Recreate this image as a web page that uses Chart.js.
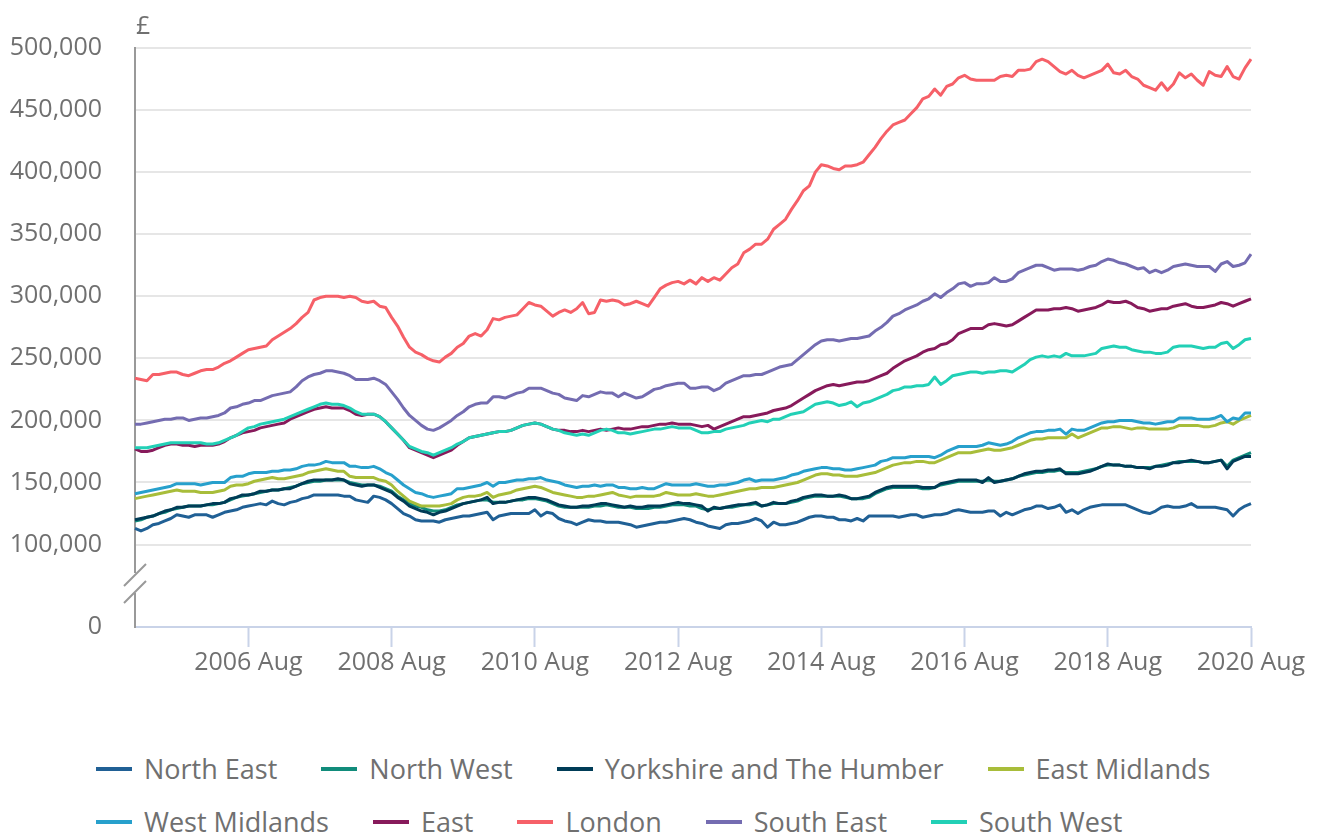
<!DOCTYPE html>
<html>
<head>
<meta charset="utf-8">
<title>Average house price by region</title>
<script src="https://cdn.jsdelivr.net/npm/chart.js@4.4.0/dist/chart.umd.min.js"></script>
<style>
    body { margin: 0; background: #fff; font-family: 'Open Sans', sans-serif; }
    #wrap { position: relative; width: 1319px; height: 835px; overflow: hidden; }
    #chartBox { position: absolute; left: 0; top: 0; width: 1319px; height: 700px; }
    .legend-row { position: absolute; left: 96px; display: flex; align-items: center; white-space: nowrap; font-size: 27px; line-height: 36px; color: #707070; }
    .legend-item { display: flex; align-items: center; margin-right: 44px; }
    .swatch { width: 36px; height: 4px; margin-right: 12px; }
</style>
</head>
<body>
<div id="wrap">
    <div id="chartBox"><canvas id="priceChart"></canvas></div>
    <div class="legend-row" id="legendRow1" style="top:751px"></div>
    <div class="legend-row" id="legendRow2" style="top:804px"></div>
</div>
<script>
// Average house price by region, Jan 2005 - Aug 2020 (£ thousands)

const monthNames = ['Jan', 'Feb', 'Mar', 'Apr', 'May', 'Jun', 'Jul', 'Aug', 'Sep', 'Oct', 'Nov', 'Dec'];
const firstYear = 2005;
const monthCount = 188;

const tickLabels = ['2006 Aug', '2008 Aug', '2010 Aug', '2012 Aug', '2014 Aug', '2016 Aug', '2018 Aug', '2020 Aug'];
const yTicks = [100000, 150000, 200000, 250000, 300000, 350000, 400000, 450000, 500000];

const northEast = [
    113, 111, 113, 116, 117, 119, 121, 124, 123, 122, 124, 124,
    124, 122, 124, 126, 127, 128, 130, 131, 132, 133, 132, 135,
    133, 132, 134, 135, 137, 138, 140, 140, 140, 140, 140, 139,
    139, 136, 135, 134, 139, 138, 136, 133, 129, 125, 123, 120,
    119, 119, 119, 118, 120, 121, 122, 123, 123, 124, 125, 126,
    120, 123, 124, 125, 125, 125, 125, 128, 123, 126, 125, 121,
    119, 118, 116, 118, 120, 119, 119, 118, 118, 118, 117, 116,
    114, 115, 116, 117, 118, 118, 119, 120, 121, 120, 118, 117,
    115, 114, 113, 116, 117, 117, 118, 119, 121, 119, 114, 118,
    116, 116, 117, 118, 120, 122, 123, 123, 122, 122, 120, 120,
    119, 121, 119, 123, 123, 123, 123, 123, 122, 123, 124, 124,
    122, 123, 124, 124, 125, 127, 128, 127, 126, 126, 126, 127,
    127, 123, 126, 124, 126, 128, 129, 131, 131, 129, 130, 132,
    126, 128, 125, 128, 130, 131, 132, 132, 132, 132, 132, 130,
    128, 126, 125, 127, 130, 131, 130, 130, 131, 133, 130, 130,
    130, 130, 129, 128, 123, 128, 131, 133
];

const northWest = [
    119, 120, 122, 123, 125, 126, 128, 129, 130, 131, 131, 131,
    132, 132, 133, 134, 136, 138, 139, 140, 141, 142, 143, 144,
    144, 145, 146, 147, 149, 150, 151, 151, 152, 152, 152, 152,
    150, 149, 148, 148, 148, 147, 145, 143, 139, 136, 133, 131,
    130, 128, 127, 127, 128, 130, 132, 133, 134, 135, 136, 136,
    134, 134, 134, 135, 136, 136, 137, 137, 136, 135, 133, 131,
    130, 130, 130, 130, 130, 131, 131, 132, 131, 130, 130, 130,
    129, 129, 129, 130, 130, 131, 132, 132, 132, 131, 131, 129,
    128, 129, 129, 130, 130, 131, 132, 132, 133, 131, 132, 133,
    133, 133, 134, 135, 137, 138, 139, 139, 139, 139, 139, 138,
    137, 137, 137, 138, 141, 143, 145, 146, 146, 146, 146, 146,
    145, 145, 146, 148, 149, 150, 151, 151, 151, 151, 151, 152,
    151, 151, 152, 153, 155, 156, 157, 158, 158, 159, 159, 160,
    158, 158, 158, 159, 160, 161, 163, 164, 164, 164, 163, 163,
    162, 162, 162, 163, 164, 165, 166, 167, 167, 167, 167, 166,
    166, 167, 168, 163, 168, 170, 172, 174
];

const yorkshire = [
    120, 121, 122, 123, 125, 127, 128, 130, 130, 131, 131, 131,
    132, 133, 133, 134, 137, 138, 140, 140, 141, 143, 143, 144,
    144, 145, 145, 147, 149, 151, 152, 152, 152, 152, 153, 152,
    149, 148, 147, 148, 148, 146, 144, 142, 138, 135, 131, 129,
    127, 126, 124, 126, 127, 129, 131, 133, 134, 135, 136, 138,
    133, 134, 134, 135, 136, 137, 138, 138, 137, 136, 134, 132,
    131, 130, 130, 131, 131, 132, 133, 133, 132, 131, 130, 131,
    130, 130, 131, 131, 131, 132, 133, 134, 133, 133, 132, 131,
    127, 130, 129, 130, 131, 132, 132, 133, 134, 131, 132, 134,
    133, 133, 135, 136, 138, 139, 140, 140, 139, 139, 140, 139,
    137, 137, 138, 139, 142, 144, 146, 147, 147, 147, 147, 147,
    146, 146, 146, 149, 150, 151, 152, 152, 152, 152, 150, 154,
    150, 151, 152, 153, 155, 157, 158, 159, 159, 160, 160, 161,
    157, 157, 157, 158, 159, 161, 163, 165, 164, 164, 163, 163,
    162, 162, 161, 163, 163, 164, 166, 166, 167, 168, 167, 166,
    166, 167, 168, 161, 167, 169, 171, 171
];

const eastMidlands = [
    137, 138, 139, 140, 141, 142, 143, 144, 143, 143, 143, 142,
    142, 142, 143, 144, 147, 148, 148, 149, 151, 152, 153, 154,
    153, 153, 154, 155, 156, 158, 159, 160, 161, 160, 159, 159,
    155, 154, 154, 154, 154, 152, 151, 148, 143, 139, 135, 133,
    131, 131, 131, 131, 132, 133, 136, 138, 139, 139, 140, 142,
    138, 140, 141, 142, 144, 145, 146, 147, 146, 144, 142, 141,
    140, 139, 138, 138, 139, 139, 140, 141, 142, 140, 139, 138,
    139, 139, 139, 139, 140, 142, 141, 140, 140, 140, 141, 140,
    139, 139, 140, 141, 142, 143, 144, 145, 145, 146, 146, 146,
    147, 148, 149, 150, 152, 154, 156, 157, 157, 156, 156, 155,
    155, 155, 156, 157, 158, 160, 162, 164, 165, 166, 166, 167,
    167, 166, 166, 168, 170, 172, 174, 174, 174, 175, 176, 177,
    176, 176, 177, 178, 180, 182, 184, 185, 185, 186, 186, 186,
    186, 189, 186, 188, 190, 192, 194, 194, 195, 195, 194, 193,
    194, 194, 193, 193, 193, 193, 194, 196, 196, 196, 196, 195,
    195, 196, 198, 199, 197, 200, 202, 204
];

const westMidlands = [
    141, 142, 143, 144, 145, 146, 147, 149, 149, 149, 149, 148,
    149, 150, 150, 150, 154, 155, 155, 157, 158, 158, 158, 159,
    159, 160, 160, 161, 163, 164, 164, 165, 167, 166, 166, 166,
    163, 163, 162, 162, 163, 161, 158, 156, 152, 148, 145, 142,
    141, 139, 138, 139, 140, 141, 145, 145, 146, 147, 148, 150,
    147, 150, 150, 151, 152, 152, 153, 153, 154, 152, 151, 150,
    148, 147, 146, 147, 147, 148, 147, 148, 148, 146, 146, 145,
    145, 146, 145, 145, 147, 149, 148, 148, 148, 148, 149, 148,
    147, 147, 148, 148, 149, 150, 152, 153, 151, 152, 152, 152,
    153, 154, 156, 157, 159, 160, 161, 162, 162, 161, 161, 160,
    160, 161, 162, 163, 164, 167, 168, 170, 170, 170, 171, 171,
    171, 171, 170, 172, 175, 177, 179, 179, 179, 179, 180, 182,
    181, 180, 181, 183, 186, 188, 190, 191, 191, 192, 192, 193,
    189, 193, 192, 192, 194, 196, 198, 199, 199, 200, 200, 200,
    199, 198, 198, 197, 198, 199, 199, 202, 202, 202, 201, 201,
    201, 202, 204, 199, 202, 201, 206, 206
];

const east = [
    177, 175, 175, 176, 178, 180, 181, 181, 180, 180, 179, 180,
    180, 180, 181, 183, 186, 188, 190, 191, 192, 194, 195, 196,
    197, 198, 201, 203, 205, 207, 209, 210, 211, 210, 210, 210,
    208, 205, 204, 205, 205, 203, 199, 194, 189, 184, 178, 176,
    174, 172, 170, 172, 174, 176, 180, 183, 186, 187, 188, 189,
    190, 191, 191, 192, 194, 196, 197, 198, 197, 195, 193, 192,
    192, 191, 191, 192, 191, 192, 193, 192, 193, 194, 193, 193,
    194, 195, 195, 196, 197, 197, 198, 197, 197, 197, 196, 195,
    196, 193, 195, 197, 199, 201, 203, 203, 204, 205, 206, 208,
    209, 210, 212, 215, 218, 221, 224, 226, 228, 229, 228, 229,
    230, 231, 231, 232, 234, 236, 238, 242, 245, 248, 250, 252,
    255, 257, 258, 261, 262, 265, 270, 272, 274, 274, 274, 277,
    278, 277, 276, 277, 280, 283, 286, 289, 289, 289, 290, 290,
    291, 290, 288, 289, 290, 291, 293, 296, 295, 295, 296, 294,
    291, 290, 288, 289, 290, 290, 292, 293, 294, 292, 291, 291,
    292, 293, 295, 294, 292, 294, 296, 298
];

const london = [
    234, 233, 232, 237, 237, 238, 239, 239, 237, 236, 238, 240,
    241, 241, 243, 246, 248, 251, 254, 257, 258, 259, 260, 265,
    268, 271, 274, 278, 283, 287, 297, 299, 300, 300, 300, 299,
    300, 299, 296, 295, 296, 292, 291, 283, 276, 267, 259, 255,
    253, 250, 248, 247, 251, 254, 259, 262, 268, 270, 268, 273,
    282, 281, 283, 284, 285, 290, 295, 293, 292, 288, 284, 287,
    289, 287, 290, 295, 286, 287, 297, 296, 297, 296, 293, 294,
    296, 294, 292, 299, 306, 309, 311, 312, 310, 313, 310, 315,
    312, 315, 313, 318, 323, 326, 335, 338, 342, 342, 346, 354,
    358, 362, 370, 377, 385, 389, 400, 406, 405, 403, 402, 405,
    405, 406, 408, 414, 420, 427, 433, 438, 440, 442, 447, 452,
    459, 461, 467, 462, 469, 471, 476, 478, 475, 474, 474, 474,
    474, 477, 478, 477, 482, 482, 483, 489, 491, 489, 485, 481,
    479, 482, 478, 476, 478, 480, 482, 487, 480, 479, 482, 477,
    475, 470, 468, 466, 472, 466, 471, 480, 476, 479, 474, 470,
    481, 478, 477, 485, 477, 475, 484, 491
];

const southEast = [
    197, 197, 198, 199, 200, 201, 201, 202, 202, 200, 201, 202,
    202, 203, 204, 206, 210, 211, 213, 214, 216, 216, 218, 220,
    221, 222, 223, 227, 232, 235, 237, 238, 240, 240, 239, 238,
    236, 233, 233, 233, 234, 232, 229, 223, 217, 210, 204, 200,
    196, 193, 192, 194, 197, 200, 204, 207, 211, 213, 214, 214,
    219, 219, 218, 220, 222, 223, 226, 226, 226, 224, 222, 221,
    218, 217, 216, 220, 219, 221, 223, 222, 222, 219, 222, 220,
    218, 219, 222, 225, 226, 228, 229, 230, 230, 226, 226, 227,
    227, 224, 226, 230, 232, 234, 236, 236, 237, 237, 239, 241,
    243, 244, 245, 249, 253, 257, 261, 264, 265, 265, 264, 265,
    266, 266, 267, 268, 272, 275, 279, 284, 286, 289, 291, 293,
    296, 298, 302, 299, 303, 306, 310, 311, 308, 310, 310, 311,
    315, 312, 312, 314, 319, 321, 323, 325, 325, 323, 321, 322,
    322, 322, 321, 322, 324, 325, 328, 330, 329, 327, 326, 324,
    322, 323, 319, 321, 319, 321, 324, 325, 326, 325, 324, 324,
    324, 320, 326, 328, 324, 325, 327, 334
];

const southWest = [
    178, 178, 178, 179, 180, 181, 182, 182, 182, 182, 182, 182,
    181, 181, 182, 184, 186, 188, 191, 194, 195, 197, 198, 199,
    200, 201, 203, 205, 207, 209, 211, 213, 214, 213, 213, 212,
    210, 207, 205, 205, 205, 203, 199, 194, 189, 184, 179, 177,
    175, 174, 172, 174, 176, 178, 181, 183, 186, 187, 188, 189,
    190, 191, 191, 192, 194, 196, 197, 198, 197, 195, 193, 192,
    190, 189, 188, 189, 188, 190, 192, 193, 192, 190, 190, 189,
    190, 191, 192, 193, 193, 194, 195, 194, 194, 194, 192, 190,
    190, 191, 191, 193, 194, 195, 196, 198, 199, 200, 199, 201,
    201, 203, 205, 206, 207, 210, 213, 214, 215, 214, 212, 213,
    215, 211, 214, 215, 217, 219, 221, 224, 225, 227, 227, 228,
    228, 229, 235, 229, 232, 236, 237, 238, 239, 239, 238, 239,
    239, 240, 240, 239, 242, 245, 249, 251, 252, 251, 252, 251,
    254, 252, 252, 252, 253, 254, 258, 259, 260, 259, 259, 257,
    256, 255, 255, 254, 254, 255, 259, 260, 260, 260, 259, 258,
    259, 259, 262, 263, 258, 261, 265, 266
];

const regionNames = ['North East', 'North West', 'Yorkshire and The Humber', 'East Midlands',
    'West Midlands', 'East', 'London', 'South East', 'South West'];
const regionValues = [northEast, northWest, yorkshire, eastMidlands, westMidlands, east, london, southEast, southWest];
const regionColors = ['#206095', '#118c7b', '#003c57', '#a8bd3a', '#27a0cc', '#871a5b', '#f66068', '#746cb1', '#22d0b6'];

// bottom of the value axis sits below a break, drawn as "0"
const Y_MIN = 33600;
const TEXT_COLOR = '#707070';
const FONT = "'Open Sans', sans-serif";

document.addEventListener('DOMContentLoaded', function() {
    buildLegend();
    drawChart();
});

function monthLabels() {
    const labels = [];
    for (let i = 0; i < monthCount; i++) {
        labels.push((firstYear + Math.floor(i / 12)) + ' ' + monthNames[i % 12]);
    }
    return labels;
}

function buildLegend() {
    const rows = [document.getElementById('legendRow1'), document.getElementById('legendRow2')];
    regionNames.forEach((name, i) => {
        const item = document.createElement('div');
        item.className = 'legend-item';
        const swatch = document.createElement('span');
        swatch.className = 'swatch';
        swatch.style.background = regionColors[i];
        const text = document.createElement('span');
        text.textContent = name;
        item.appendChild(swatch);
        item.appendChild(text);
        rows[i < 4 ? 0 : 1].appendChild(item);
    });
}

// axis break marks and the £ unit label
const axisExtras = {
    id: 'axisExtras',
    afterDraw(chart) {
        const ctx = chart.ctx;
        const x = chart.chartArea.left;
        ctx.save();
        ctx.fillStyle = '#fff';
        ctx.fillRect(x - 4, 573, 8, 20);
        ctx.strokeStyle = '#999';
        ctx.lineWidth = 2;
        ctx.beginPath();
        ctx.moveTo(x - 11, 586);
        ctx.lineTo(x + 11, 564);
        ctx.moveTo(x - 11, 603);
        ctx.lineTo(x + 11, 581);
        ctx.stroke();
        ctx.fillStyle = TEXT_COLOR;
        ctx.font = '25px ' + FONT;
        ctx.textAlign = 'left';
        ctx.textBaseline = 'alphabetic';
        ctx.fillText('£', x + 1, 34);
        ctx.restore();
    }
};

function drawChart() {
    const labels = monthLabels();
    const isTick = index => tickLabels.includes(labels[index]);

    const datasets = regionNames.map((name, i) => ({
        label: name,
        data: regionValues[i].map(v => v * 1000),
        borderColor: regionColors[i],
        backgroundColor: regionColors[i],
        borderWidth: 3,
        pointRadius: 0,
        tension: 0,
        borderJoinStyle: 'round',
        order: regionNames.length - i
    }));

    new Chart(document.getElementById('priceChart'), {
        type: 'line',
        data: { labels: labels, datasets: datasets },
        options: {
            responsive: true,
            maintainAspectRatio: false,
            animation: false,
            layout: { padding: { top: 41, right: 68, bottom: 0, left: 10 } },
            plugins: {
                legend: { display: false },
                tooltip: { enabled: false }
            },
            scales: {
                x: {
                    afterFit: function(scale) { scale.height = 73; },
                    ticks: {
                        autoSkip: false,
                        maxRotation: 0,
                        padding: 1,
                        color: TEXT_COLOR,
                        font: { family: FONT, size: 25 },
                        callback: function(value, index) {
                            return isTick(index) ? labels[index] : '';
                        }
                    },
                    grid: {
                        drawOnChartArea: false,
                        tickLength: 20,
                        tickWidth: 2,
                        tickColor: ctx => isTick(ctx.index) ? '#c9d3e8' : 'rgba(0,0,0,0)'
                    },
                    border: { color: '#c9d3e8', width: 2 }
                },
                y: {
                    min: Y_MIN,
                    max: 500000,
                    afterFit: function(scale) { scale.width = 125; },
                    afterBuildTicks: function(scale) {
                        scale.ticks = [Y_MIN].concat(yTicks).map(v => ({ value: v }));
                    },
                    ticks: {
                        padding: 33,
                        color: TEXT_COLOR,
                        font: { family: FONT, size: 25 },
                        callback: function(value) {
                            return value === Y_MIN ? '0' : value.toLocaleString('en-GB');
                        }
                    },
                    grid: {
                        drawTicks: false,
                        lineWidth: 2,
                        color: ctx => (ctx.tick && ctx.tick.value === Y_MIN) ? 'rgba(0,0,0,0)' : '#e6e6e6'
                    },
                    border: { color: '#999', width: 2 }
                }
            }
        },
        plugins: [axisExtras]
    });
}
</script>
</body>
</html>
